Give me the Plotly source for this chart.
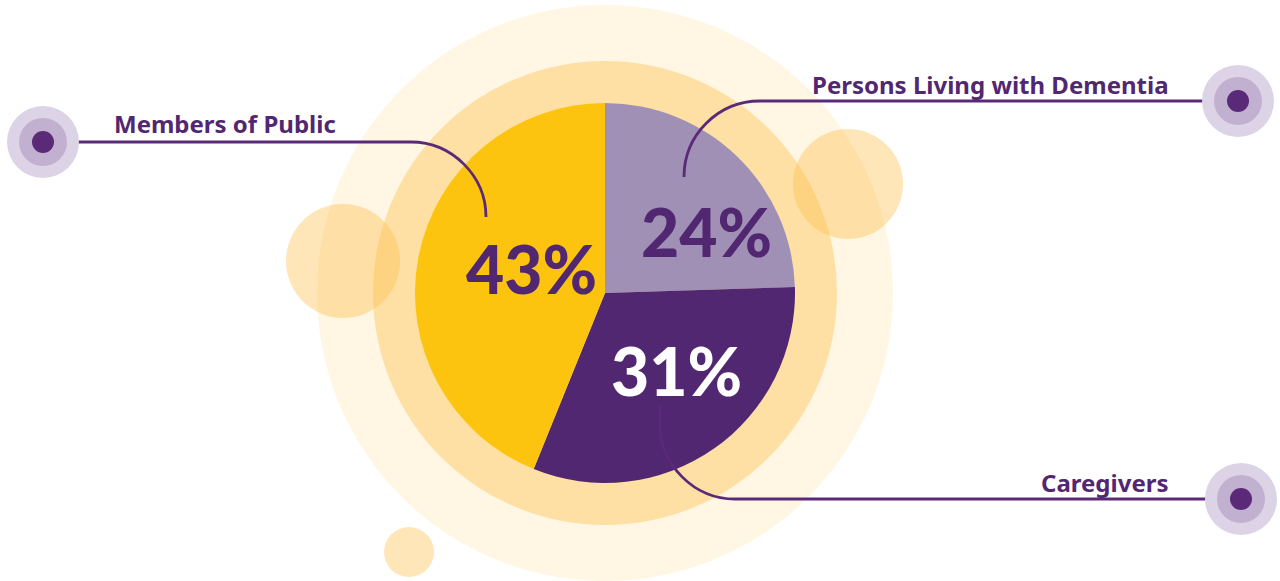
import plotly.graph_objects as go

# ---- data ----
categories = ["Persons Living with Dementia", "Caregivers", "Members of Public"]
values = [24, 31, 43]
slice_colors = ["#A190B6", "#512772", "#FDC40F"]
pct_colors = ["#512772", "#FFFFFF", "#512772"]

W, H = 1280, 581
PURPLE = "#512772"
LINE = "#5A2A78"


def px(x):
    return x / W


def py(y):
    return 1 - y / H


cx, cy, r = 605, 293, 190

fig = go.Figure()
fig.add_trace(go.Pie(
    labels=categories,
    values=values,
    sort=False,
    direction="clockwise",
    rotation=0,
    marker=dict(colors=slice_colors, line=dict(width=0)),
    textinfo="none",
    hoverinfo="label+percent",
    showlegend=False,
    domain=dict(x=[px(cx - r), px(cx + r)], y=[py(cy + r), py(cy - r)]),
))

shapes = []


def circle(x, y, rad, color, layer="below"):
    shapes.append(dict(type="circle", xref="paper", yref="paper",
                       x0=px(x - rad), x1=px(x + rad), y0=py(y + rad), y1=py(y - rad),
                       fillcolor=color, line=dict(width=0), layer=layer))


# background rings
circle(cx, cy, 288, "rgba(253,196,80,0.16)")
circle(cx, cy, 232, "rgba(253,190,70,0.40)")
# floating bubbles
circle(848, 184, 55, "rgba(253,190,70,0.38)")
circle(343, 261, 57, "rgba(253,190,70,0.38)")
circle(409, 552, 25, "rgba(253,190,70,0.38)")


def path(pts_str):
    shapes.append(dict(type="path", xref="paper", yref="paper", path=pts_str,
                       line=dict(color=LINE, width=2.8), layer="above"))


def P(x, y):
    return f"{px(x):.6f},{py(y):.6f}"


# leader lines
path(f"M {P(43,142)} L {P(411,142)} C {P(452,142)} {P(486,176)} {P(486,217)}")
path(f"M {P(1238,101)} L {P(760,101)} C {P(718,101)} {P(684,135)} {P(684,177)}")
path(f"M {P(660,405)} L {P(660,424)} C {P(660,465)} {P(694,499)} {P(735,499)} L {P(1240,499)}")

# target dots
for (dx, dy) in [(43, 142), (1238, 101), (1241, 499)]:
    circle(dx, dy, 36, "#DDD3E6", layer="above")
    circle(dx, dy, 24, "#C2B0D0", layer="above")
    circle(dx, dy, 11, "#5A2A78", layer="above")

annotations = []
pct_pos = [(706, 232), (676, 371), (531, 268)]
for v, col, (ax, ay) in zip(values, pct_colors, pct_pos):
    annotations.append(dict(x=px(ax), y=py(ay), xref="paper", yref="paper",
                            text=f"{v}%", showarrow=False, xanchor="center", yanchor="middle",
                            font=dict(family="Lato", size=66, color=col, weight=900)))

label_pos = [(1171, 84, "right"), (1171, 482, "right"), (112, 124, "left")]
for lab, (lx, ly, anc) in zip(categories, label_pos):
    annotations.append(dict(x=px(lx), y=py(ly), xref="paper", yref="paper",
                            text=lab, showarrow=False, xanchor=anc, yanchor="middle",
                            font=dict(family="Noto Sans", size=24, color=PURPLE, weight="bold")))

fig.update_layout(
    width=W, height=H,
    margin=dict(l=0, r=0, t=0, b=0),
    paper_bgcolor="white",
    plot_bgcolor="white",
    shapes=shapes,
    annotations=annotations,
)

fig.write_html("out.html", config={"displayModeBar": False},
               post_script="document.body.style.margin='0';document.body.style.overflow='hidden';")
